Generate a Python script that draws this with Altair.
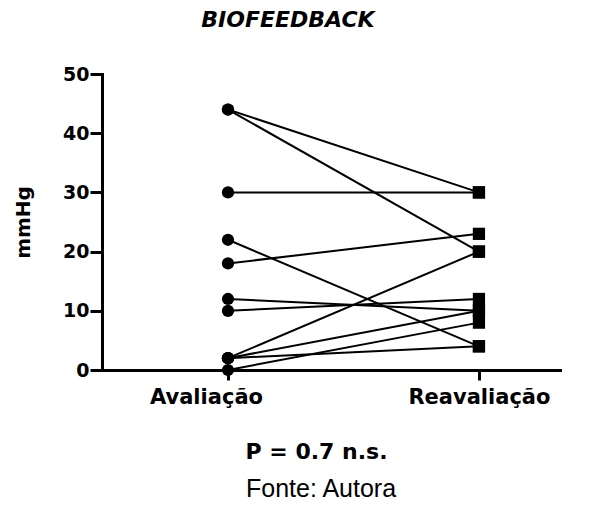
import altair as alt
import pandas as pd

# ---- data ----
groups = ["Avaliação", "Reavaliação"]
avaliacao = [44, 44, 30, 22, 18, 12, 10, 2, 2, 0, 2]
reavaliacao = [30, 20, 30, 4, 23, 10, 12, 20, 10, 8, 4]
y_ticks = [0, 10, 20, 30, 40, 50]
chart_title = "BIOFEEDBACK"
y_title = "mmHg"
x_title = "P = 0.7 n.s."
source_note = ["Fonte: Autora"]

rows = []
for i, (a, r) in enumerate(zip(avaliacao, reavaliacao)):
    rows.append({"sujeito": i, "momento": 0, "mmHg": a})
    rows.append({"sujeito": i, "momento": 1, "mmHg": r})
df = pd.DataFrame(rows)
note_df = pd.DataFrame({"t": source_note})

FONT = "DejaVu Sans"

x_enc = alt.X(
    "momento:Q",
    scale=alt.Scale(domain=[-0.502, 1.323], nice=False, zero=False),
    axis=alt.Axis(
        values=[0, 1],
        labelExpr=f"datum.value == 0 ? '{groups[0]}' : '{groups[1]}'",
        labelFont=FONT, labelFontSize=21, labelFontWeight="bold",
        labelColor="black", labelPadding=6,
        labelOffset={"condition": {"test": "datum.value == 0", "value": -22}, "value": 0},
        tickSize=10, tickWidth=3, tickColor="black",
        domainWidth=3, domainColor="black", domainCap="square",
        grid=False,
        title=x_title, titleFont=FONT, titleFontSize=22, titleFontWeight="bold",
        titleColor="black", titleX=214, titleY=88, titleAlign="center",
        titleBaseline="alphabetic",
    ),
)
y_enc = alt.Y(
    "mmHg:Q",
    scale=alt.Scale(domain=[0, 50], nice=False),
    axis=alt.Axis(
        values=y_ticks, format="d",
        labelFont=FONT, labelFontSize=19, labelFontWeight="bold",
        labelColor="black", labelPadding=1,
        tickSize=12, tickWidth=3, tickColor="black",
        domainWidth=3, domainColor="black", domainCap="square",
        grid=False,
        title=y_title, titleFont=FONT, titleFontSize=20, titleFontWeight="bold",
        titleColor="black", titleX=-79, titleY=148, titleAngle=270,
        titleAlign="center", titleBaseline="middle",
    ),
)

lines = alt.Chart(df).mark_line(color="black", strokeWidth=2).encode(
    x=x_enc, y=y_enc, detail="sujeito:N"
)
circles = alt.Chart(df).transform_filter("datum.momento == 0").mark_point(
    shape="circle", filled=True, size=150, color="black", opacity=1
).encode(x=x_enc, y=y_enc)
squares = alt.Chart(df).transform_filter("datum.momento == 1").mark_point(
    shape="square", filled=True, size=150, color="black", opacity=1
).encode(x=x_enc, y=y_enc)
note = alt.Chart(note_df).mark_text(
    font="Liberation Sans", fontSize=25, color="black",
    align="center", baseline="alphabetic"
).encode(x=alt.value(219), y=alt.value(423), text="t:N")

chart = alt.layer(lines, circles, squares, note).properties(
    width=458,
    height=296,
    title=alt.Title(
        chart_title, font=FONT, fontSize=22, fontStyle="italic",
        fontWeight="bold", color="black", anchor="middle", frame="group",
        dx=-43, offset=16, baseline="alphabetic",
    ),
    padding={"left": 94, "top": 66, "right": 27, "bottom": 131},
    autosize=alt.AutoSizeParams(type="none"),
    background="white",
).configure_view(stroke=None)

chart.save("out.html", embed_options={"renderer": "svg", "actions": False})
